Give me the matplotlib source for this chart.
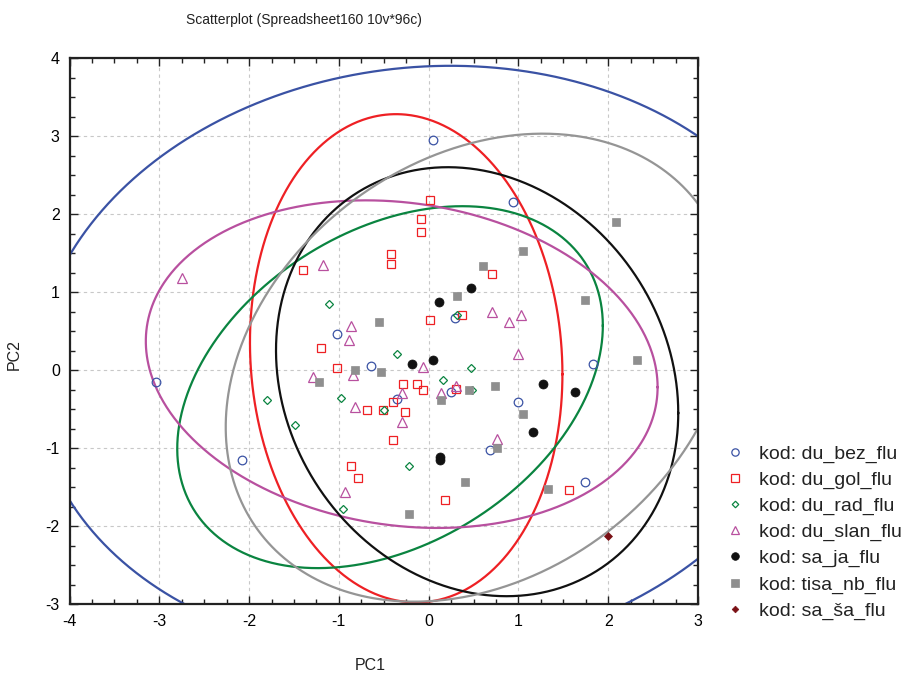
import numpy as np
import matplotlib
matplotlib.use("Agg")
import matplotlib.pyplot as plt
from matplotlib.ticker import MultipleLocator
from matplotlib.lines import Line2D

plt.rcParams['font.family'] = ['Liberation Sans', 'DejaVu Sans']
plt.rcParams['axes.unicode_minus'] = False

# ---------------- data ----------------
du_bez_x = [0.05, 0.94, -1.02, -0.64, 0.29, -0.35, 0.25, 0.68, 1.83, 1.00, 1.74, -3.04, -2.08]
du_bez_y = [2.95, 2.15, 0.46, 0.05, 0.67, -0.37, -0.28, -1.02, 0.08, -0.41, -1.44, -0.16, -1.15]

du_gol_x = [0.02, -0.09, -0.09, -0.42, -0.42, -1.40, 0.02, 0.37, 0.71, -1.20, -1.02, -0.29,
            -0.13, -0.06, -0.40, -0.69, -0.51, -0.26, -0.40, -0.87, -0.79, 0.18, 0.30, 1.56]
du_gol_y = [2.18, 1.94, 1.77, 1.49, 1.36, 1.28, 0.64, 0.71, 1.23, 0.28, 0.03, -0.18,
            -0.18, -0.26, -0.41, -0.51, -0.51, -0.54, -0.90, -1.23, -1.38, -1.67, -0.24, -1.54]

du_rad_x = [-1.11, 0.32, -1.80, -0.35, 0.47, 0.16, 0.48, -0.98, -0.50, -1.49, -0.22, -0.95]
du_rad_y = [0.84, 0.70, -0.38, 0.20, 0.02, -0.13, -0.26, -0.36, -0.51, -0.70, -1.23, -1.78]

du_slan_x = [-2.75, -1.18, -0.87, -0.89, -1.29, -0.84, -0.06, -0.30, -0.82, -0.30, 0.14, 0.31,
             -0.93, 0.90, 0.71, 1.03, 0.99, 0.76]
du_slan_y = [1.18, 1.35, 0.56, 0.38, -0.09, -0.06, 0.04, -0.29, -0.47, -0.67, -0.29, -0.21,
             -1.57, 0.61, 0.74, 0.71, 0.20, -0.88]

sa_ja_x = [0.47, 0.11, -0.18, 0.05, 0.13, 0.13, 1.27, 1.63, 1.16]
sa_ja_y = [1.05, 0.87, 0.08, 0.13, -1.11, -1.15, -0.18, -0.28, -0.79]

tisa_nb_x = [0.60, 0.32, -0.55, 1.05, 2.09, 1.74, -0.82, -0.53, -1.22, 0.14, 0.45, 0.41,
             -0.22, 0.74, 1.05, 0.76, 1.33, 2.32]
tisa_nb_y = [1.33, 0.95, 0.61, 1.53, 1.90, 0.90, 0.00, -0.03, -0.15, -0.38, -0.26, -1.44,
             -1.84, -0.21, -0.57, -1.00, -1.52, 0.13]

sa_sa_x = [2.00]
sa_sa_y = [-2.13]

labels = ["kod: du_bez_flu", "kod: du_gol_flu", "kod: du_rad_flu", "kod: du_slan_flu",
          "kod: sa_ja_flu", "kod: tisa_nb_flu", "kod: sa_ša_flu"]

# ellipses: centre x, centre y, half-width, half-height, correlation
ell_cx = [-0.035, -0.25, -0.43, -0.30, 0.54, 0.555]
ell_cy = [0.12, 0.15, -0.22, 0.075, -0.15, 0.03]
ell_hx = [4.36, 1.74, 2.37, 2.85, 2.24, 2.815]
ell_hy = [3.78, 3.13, 2.32, 2.10, 2.75, 3.00]
ell_rho = [0.064, -0.065, 0.34, -0.14, -0.146, 0.254]
ell_col = ["#3a52a4", "#ee2024", "#0a8440", "#b8509f", "#111111", "#959595"]

# ---------------- figure ----------------
fig = plt.figure(figsize=(9.11, 6.77), dpi=100)
ax = fig.add_axes([69.5 / 911, (677 - 604) / 677, (698 - 69.5) / 911, (604 - 58) / 677])

t = np.linspace(0, 2 * np.pi, 720)
for cx, cy, hx, hy, r, c in zip(ell_cx, ell_cy, ell_hx, ell_hy, ell_rho, ell_col):
    ex = cx + hx * np.cos(t)
    ey = cy + hy * (r * np.cos(t) + np.sqrt(1 - r * r) * np.sin(t))
    ax.plot(ex, ey, color=c, lw=1.6, zorder=2)

series = [
    (du_bez_x, du_bez_y, dict(marker='o', mfc='none', mec='#3a52a4', ms=6.2, mew=0.9)),
    (du_gol_x, du_gol_y, dict(marker='s', mfc='none', mec='#ee2024', ms=6.2, mew=0.9)),
    (du_rad_x, du_rad_y, dict(marker='D', mfc='none', mec='#0a8440', ms=3.9, mew=0.9)),
    (du_slan_x, du_slan_y, dict(marker='^', mfc='none', mec='#b8509f', ms=6.5, mew=0.9)),
    (sa_ja_x, sa_ja_y, dict(marker='o', mfc='#111111', mec='#111111', ms=6.5, mew=0.5)),
    (tisa_nb_x, tisa_nb_y, dict(marker='s', mfc='#8f8f8f', mec='#8f8f8f', ms=6.3, mew=0.5)),
    (sa_sa_x, sa_sa_y, dict(marker='D', mfc='#7a1015', mec='#7a1015', ms=4.0, mew=0.5)),
]
handles = []
for (xs, ys, st), lab in zip(series, labels):
    ax.plot(xs, ys, ls='none', zorder=3, clip_on=False, **st)
    hst = dict(st)
    hst['ms'] = st['ms'] * 0.85
    handles.append(Line2D([], [], ls='none', **hst))

ax.set_xlim(-4, 3)
ax.set_ylim(-3, 4)
ax.xaxis.set_major_locator(MultipleLocator(1))
ax.yaxis.set_major_locator(MultipleLocator(1))
ax.xaxis.set_minor_locator(MultipleLocator(0.25))
ax.yaxis.set_minor_locator(MultipleLocator(0.25))
ax.tick_params(which='both', direction='in', top=True, right=True, width=1.0,
               labelsize=11.5, color='#222222', pad=7)
ax.tick_params(which='major', length=6)
ax.tick_params(which='minor', length=3.5)
ax.grid(True, which='major', color='#c8c8c8', ls=(0, (3, 3)), lw=0.8)
for s in ax.spines.values():
    s.set_linewidth(1.6)
    s.set_color('#222222')

fig.text(304 / 911, 1 - 20 / 677, "Scatterplot (Spreadsheet160 10v*96c)",
         ha='center', va='center', fontsize=10, color='#222222')
fig.text(370 / 911, 1 - 665 / 677, "PC1", ha='center', va='center', fontsize=11.5, color='#222222')
fig.text(14 / 911, 1 - 355 / 677, "PC2", ha='center', va='center', rotation=90,
         fontsize=11.5, color='#222222')

leg = fig.legend(handles, labels, loc='upper left', bbox_to_anchor=(725 / 911, 1 - 445 / 677),
                 frameon=False, fontsize=14, handlelength=1.0, handletextpad=0.75,
                 labelspacing=0.43, borderpad=0, borderaxespad=0)
for txt in leg.get_texts():
    txt.set_color('#222222')

fig.savefig("out.png", dpi=100)
